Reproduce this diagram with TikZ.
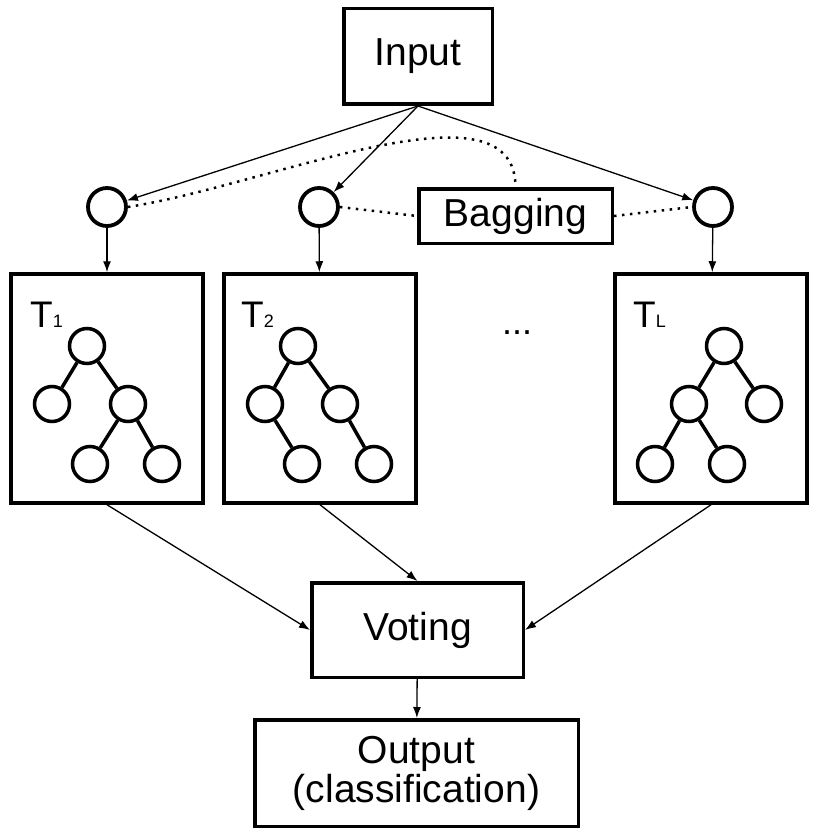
\documentclass[tikz,border=0pt]{standalone}
\usepackage{fontspec}
\setmainfont{Liberation Sans}
\usetikzlibrary{arrows.meta}
\begin{document}
\begin{tikzpicture}[x=1pt,y=-1pt,
  box/.style={draw,line width=3.5pt,inner sep=0pt,font=\fontsize{39}{39}\selectfont,align=center},
  pt/.style={draw,circle,line width=3.8pt,minimum size=38pt,inner sep=0pt},
  tn/.style={draw,circle,line width=3.5pt,minimum size=35pt,inner sep=0pt},
  te/.style={line width=3.5pt},
  arr/.style={line width=1.3pt,-{Latex[length=11pt,width=8pt]}},
  dots/.style={line width=2.5pt,dash pattern=on 2.5pt off 5.5pt},
  tlab/.style={anchor=base west,inner sep=0pt}
]
\useasboundingbox (0,0) rectangle (814,837);
% boxes
\node[box,minimum width=148.5pt,minimum height=95.5pt] (in) at (418,56.5) {Input};
\node[box,minimum width=193.5pt,minimum height=54.5pt] (bag) at (515.5,216) {Bagging};
\node[box,minimum width=192pt,minimum height=229pt] (b1) at (107,388.5) {};
\node[box,minimum width=192pt,minimum height=229pt] (b2) at (320,388.5) {};
\node[box,minimum width=192pt,minimum height=229pt] (b3) at (711,388.5) {};
\node[box,minimum width=211.5pt,minimum height=94.5pt] (vote) at (417.5,630) {Voting};
\node[box,minimum width=323.5pt,minimum height=106.5pt] (out) at (416.5,773) {Output\\(classification)};
% sample circles
\node[pt] (c1) at (107,207) {};
\node[pt] (c2) at (319,207) {};
\node[pt] (c3) at (713,207) {};
% labels
\node[tlab] (l1) at (30,327) {\fontsize{37}{40}\selectfont T\fontsize{18}{20}\selectfont 1};
\node[tlab] (l2) at (241,327) {\fontsize{37}{40}\selectfont T\fontsize{18}{20}\selectfont 2};
\node[tlab] (l3) at (633,327) {\fontsize{37}{40}\selectfont T\fontsize{18}{20}\selectfont L};
\node[tlab] (dd) at (502,334) {\fontsize{36}{40}\selectfont ...};
% tree 1
\node[tn] (a0) at (87,346) {};
\node[tn] (a1) at (52,404) {};
\node[tn] (a2) at (128,404) {};
\node[tn] (a3) at (90,464) {};
\node[tn] (a4) at (162,464) {};
\draw[te] (a0) -- (a1) (a0) -- (a2) (a2) -- (a3) (a2) -- (a4);
% tree 2
\node[tn] (d0) at (298,346) {};
\node[tn] (d1) at (265,404) {};
\node[tn] (d2) at (340,404) {};
\node[tn] (d3) at (302,464) {};
\node[tn] (d4) at (374,464) {};
\draw[te] (d0) -- (d1) (d0) -- (d2) (d1) -- (d3) (d2) -- (d4);
% tree L
\node[tn] (e0) at (724,346) {};
\node[tn] (e1) at (689,404) {};
\node[tn] (e2) at (764,404) {};
\node[tn] (e3) at (655,464) {};
\node[tn] (e4) at (727,464) {};
\draw[te] (e0) -- (e1) (e0) -- (e2) (e1) -- (e3) (e1) -- (e4);
% arrows
\draw[arr] (in.south) -- (c1);
\draw[arr] (in.south) -- (c2);
\draw[arr] (in.south) -- (c3);
\draw[arr] (c1) -- (b1);
\draw[arr] (c2) -- (b2);
\draw[arr] (c3) -- (b3);
\draw[arr] (b1.south) -- (vote.west);
\draw[arr] (b2.south) -- (vote.north);
\draw[arr] (b3.south) -- (vote.east);
\draw[arr] (vote) -- (out);
% bagging dotted links
\draw[dots] (c1.east) .. controls (270,185) and (515,75) .. (bag.north);
\draw[dots] (c2.east) -- (bag.west);
\draw[dots] (bag.east) -- (c3.west);
\end{tikzpicture}
\end{document}
